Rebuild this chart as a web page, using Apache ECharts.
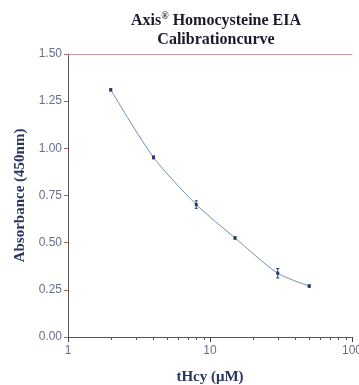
<!DOCTYPE html>
<html>
<head>
<meta charset="utf-8">
<script src="https://cdn.jsdelivr.net/npm/echarts@6/dist/echarts.min.js"></script>
<style>
  html, body { margin: 0; padding: 0; background: #fff; }
  #chart { width: 359px; height: 385px; }
</style>
</head>
<body>
<div id="chart"></div>
<script>
// calibration standards, tHcy in uM
var conc = [2, 4, 8, 15, 30, 50];
var absorb = [1.31, 0.952, 0.702, 0.525, 0.338, 0.27];
var errs = [0.006, 0.008, 0.02, 0.006, 0.025, 0.006];
var minorX = [2, 3, 4, 5, 6, 7, 8, 9, 20, 30, 40, 50, 60, 70, 80, 90];

var chart = echarts.init(document.getElementById('chart'), null, {renderer: 'canvas'});

var pts = conc.map(function (c, i) { return [c, absorb[i]]; });
var bars = conc.map(function (c, i) { return [c, absorb[i] - errs[i], absorb[i] + errs[i]]; });
var minorData = minorX.map(function (v) { return [v, 0]; });

var serif = '"Liberation Serif", "DejaVu Serif", serif';
var sans = '"Liberation Sans", Arial, sans-serif';

chart.setOption({
    animation: false,
    title: {
        text: 'Axis{sup|®} Homocysteine EIA\nCalibrationcurve',
        left: 211,
        textAlign: 'center',
        top: 6,
        textStyle: {
            fontFamily: serif, fontWeight: 'bold', fontSize: 16, color: '#1a1a2a',
            lineHeight: 19,
            rich: {
                sup: {fontFamily: serif, fontWeight: 'bold', fontSize: 10, color: '#1a1a2a', verticalAlign: 'top', lineHeight: 19, padding: [0, 0, 7, 0]}
            }
        }
    },
    grid: {left: 68, right: 7, top: 54, bottom: 48, containLabel: false, outerBoundsMode: 'none'},
    xAxis: [{
        type: 'log',
        logBase: 10,
        min: 1,
        max: 100,
        name: 'tHcy (μM)',
        nameLocation: 'middle',
        nameGap: 33,
        nameTextStyle: {fontFamily: serif, fontWeight: 'bold', fontSize: 15, color: '#2a3560'},
        axisLine: {lineStyle: {color: '#555', width: 1}},
        axisTick: {show: true, length: 5, lineStyle: {color: '#444'}},
        minorTick: {show: false},
        axisLabel: {fontFamily: sans, fontSize: 12, color: '#6a6f88', margin: 8},
        splitLine: {show: false}
    }, {
        type: 'value',
        min: 0,
        max: 2,
        position: 'top',
        axisLine: {show: true, lineStyle: {color: '#c99', width: 1}},
        axisLabel: {show: false},
        axisTick: {show: false},
        splitLine: {show: false}
    }],
    yAxis: {
        type: 'value',
        min: 0,
        max: 1.5,
        interval: 0.25,
        name: 'Absorbance (450nm)',
        nameLocation: 'middle',
        nameGap: 40,
        nameTextStyle: {fontFamily: serif, fontWeight: 'bold', fontSize: 15, color: '#2a3560'},
        axisLine: {show: true, lineStyle: {color: '#555', width: 1}},
        axisTick: {show: true, length: 4, lineStyle: {color: '#b66'}},
        axisLabel: {
            fontFamily: sans, fontSize: 12, color: '#6a6f88', margin: 6,
            formatter: function (v) { return v.toFixed(2); }
        },
        splitLine: {show: false}
    },
    series: [{
        type: 'line',
        data: pts,
        smooth: 0.25,
        symbol: 'rect',
        symbolSize: 3,
        showSymbol: true,
        itemStyle: {color: '#2b3566'},
        lineStyle: {color: '#6f8fb0', width: 1}
    }, {
        type: 'custom',
        data: bars,
        renderItem: function (params, api) {
            var lo = api.coord([api.value(0), api.value(1)]);
            var hi = api.coord([api.value(0), api.value(2)]);
            return {
                type: 'group',
                children: [
                    {type: 'line', shape: {x1: lo[0], y1: lo[1], x2: hi[0], y2: hi[1]}, style: {stroke: '#2b3566', lineWidth: 1}},
                    {type: 'line', shape: {x1: lo[0] - 1.5, y1: lo[1], x2: lo[0] + 1.5, y2: lo[1]}, style: {stroke: '#2b3566', lineWidth: 1}},
                    {type: 'line', shape: {x1: hi[0] - 1.5, y1: hi[1], x2: hi[0] + 1.5, y2: hi[1]}, style: {stroke: '#2b3566', lineWidth: 1}}
                ]
            };
        },
        z: 3
    }, {
        // minor ticks of the log axis, 2..9 in each decade
        type: 'custom',
        data: minorData,
        clip: false,
        silent: true,
        z: 10,
        renderItem: function (params, api) {
            var p = api.coord([api.value(0), api.value(1)]);
            var x = Math.round(p[0]) + 0.5;
            return {type: 'line', shape: {x1: x, y1: p[1], x2: x, y2: p[1] + 3}, style: {stroke: '#555', lineWidth: 1}};
        }
    }]
});
</script>
</body>
</html>
